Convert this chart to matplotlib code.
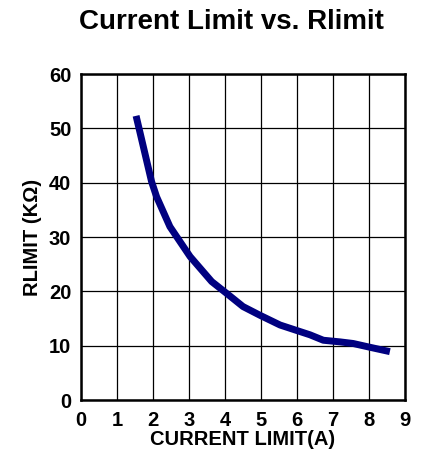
import matplotlib
matplotlib.use("Agg")
import matplotlib.pyplot as plt

current_limit = [1.53, 1.96, 2.1, 2.47, 3.03, 3.63, 4.05, 4.5, 4.97, 5.53, 5.99, 6.36, 6.73, 7.19, 7.56, 8.03, 8.58]
rlimit = [52.3, 40.2, 37.4, 31.9, 26.4, 21.8, 19.6, 17.2, 15.6, 13.8, 12.8, 12.0, 11.0, 10.7, 10.4, 9.7, 8.9]
x_ticks = list(range(0, 10))
y_ticks = [0, 10, 20, 30, 40, 50, 60]

plt.rcParams['font.family'] = ['Liberation Sans', 'DejaVu Sans']
plt.rcParams['font.weight'] = 'bold'

fig = plt.figure(figsize=(4.23, 4.61), dpi=100)
ax = fig.add_axes([81/423, 1 - 400/461, (405-81)/423, (400-74)/461])
ax.plot(current_limit, rlimit, color='#000080', lw=5, solid_capstyle='butt', solid_joinstyle='round')
ax.set_xlim(0, 9)
ax.set_ylim(0, 60)
ax.set_xticks(x_ticks)
ax.set_yticks(y_ticks)
ax.grid(True, color='black', lw=0.9)
ax.set_axisbelow(True)
for s in ax.spines.values():
    s.set_linewidth(1.8)
ax.tick_params(axis='y', length=0, labelsize=14.5, pad=7)
ax.tick_params(axis='x', length=0, labelsize=14.5, pad=8)
for lab in ax.get_xticklabels() + ax.get_yticklabels():
    lab.set_fontweight('bold')
ax.set_xlabel('CURRENT LIMIT(A)', fontsize=14.5, fontweight='bold', labelpad=0)
ax.set_ylabel('RLIMIT (KΩ)', fontsize=14.5, fontweight='bold', labelpad=5)
fig.suptitle('Current Limit vs. Rlimit', fontsize=20, fontweight='bold', x=0.546, y=0.98)
fig.savefig('out.png', dpi=100)
